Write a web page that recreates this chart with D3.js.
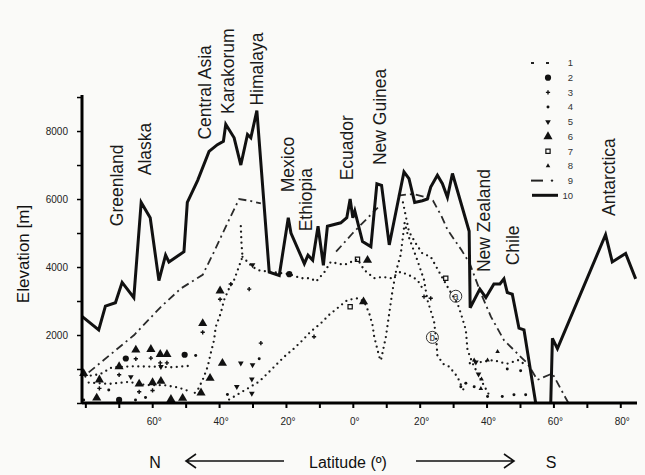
<!DOCTYPE html>
<html>
<head>
<meta charset="utf-8">
<script src="https://cdn.jsdelivr.net/npm/d3@7"></script>
<style>
  body { margin: 0; background: #fafaf8; }
  svg { display: block; font-family: "Liberation Sans", Arial, sans-serif; }
</style>
</head>
<body>
<div id="chart"></div>
<script>
// latitude: negative = north, positive = south ; elevation in m
const maxPeaks = [ // 10
  [-81, 2550], [-76, 2150], [-74, 2850], [-71, 2950], [-69, 3550], [-65.5, 3100],
  [-63.3, 5900], [-60.6, 5450], [-58, 3600], [-56, 4350], [-55, 4150], [-50.5, 4450],
  [-49.5, 5900], [-46.4, 6550], [-43, 7400], [-40.5, 7600], [-38.7, 7700], [-38, 8200],
  [-35.5, 7800], [-33.5, 7000], [-31.5, 7900], [-30.5, 7800], [-28.7, 8600], [-25, 3850],
  [-22, 3750], [-19.3, 5450], [-18.5, 5000], [-14.5, 4100], [-13.4, 4350], [-12, 4200],
  [-10.4, 5200], [-8.8, 4050], [-7.6, 5200], [-3.6, 5300], [-1.8, 5450], [-0.8, 6000],
  [0, 5450], [0.6, 5650], [2.9, 4750], [5.4, 4600], [7.2, 6450], [8.6, 6400],
  [10.9, 4650], [15.3, 6800], [16.8, 6600], [18.5, 5900], [20.8, 5950], [22.3, 6000],
  [23.3, 6350], [25.3, 6700], [26.8, 6450], [28.3, 6050], [29.8, 6750], [34.8, 5050],
  [35.1, 2800], [38, 3350], [39.8, 3100], [42.2, 3500], [44, 3500], [45.2, 3650],
  [46.2, 3250], [47.7, 3200], [49.7, 2200], [51.2, 2150], [54.7, 0], null,
  [59.2, 0], [59.7, 1900], [61.2, 1600], [75.6, 4950], [77.6, 4150], [81.6, 4400], [84.6, 3650]
];

const envelope = [ // 9
  [-79, 900], [-65.4, 2000], [-57.4, 2830], [-51.4, 3370], [-44.9, 3770], [-41.5, 4450],
  [-37.5, 5290], [-34, 6000], [-31, 5950], [-27.5, 5870], null,
  [-5, 4450], [0, 5000], [7.5, 5750], null,
  [13.5, 6100], [18, 6150], [22, 6050], [24, 5950],
  [26.5, 5500], [28.3, 5100], [32.5, 4500], [35, 4100], [38.3, 3230], [41.3, 2540],
  [45.2, 1850], [50.2, 1360], [52.2, 1170], [55.2, 680], [59.7, 870], [63.7, 140], [64.5, 0]
];

// series 1 dotted profiles
const curveA = [
  [15, 5900], [16.8, 5040], [18.8, 4700], [20.8, 4400], [23.3, 4300], [26.8, 3680],
  [29, 3300], [31.3, 2930], [32.3, 2640], [33.8, 2150], [34.3, 1560], [35.8, 1170],
  [38.3, 680], [41.3, 140]
];
const curveB = [
  [-37, 100], [-28, 630], [-25.5, 870], [-20.5, 1360], [-17.5, 1610], [-15, 1850],
  [-12.6, 2100], [-9.6, 2340], [-7.1, 2590], [-4.6, 2790], [-1.6, 3030], [1.4, 3080],
  [3.4, 2980], [4.9, 2640], [5.9, 2290], [6.4, 1950], [7.9, 1360], [8.4, 1250],
  [9.9, 1950], [10.9, 2640], [11.9, 3320], [12.9, 3860], [14.3, 4350], [15.5, 5300],
  [16.3, 5000], [19.3, 4200], [21.3, 3620], [22.3, 3030], [24.3, 2400], [25, 1800],
  [25.3, 1400], [27, 1150], [28.8, 1070], [31.3, 770], [32.8, 430], [34, 300]
];
const curveC = [
  [-33.5, 5200], [-33.3, 4700], [-33, 4300], [-35.5, 3620], [-37, 3370], [-38.5, 3030],
  [-39.5, 2640], [-41, 2240], [-41.5, 1850], [-42.5, 1460], [-43.4, 1070], [-44.9, 680],
  [-46.4, 380], [-48.4, 190]
];
const curveD = [
  [-33, 4300], [-30, 4000], [-28, 3900], [-24, 3850], [-19, 3790], [-15.5, 3670],
  [-12.6, 3670], [-11, 3570], [-8.5, 3850], [-6.6, 4150], [-2.6, 4060], [1.4, 4230],
  [3.4, 3910], [6.4, 3670], [8.9, 3710], [11.4, 3670], [14.3, 3860], [17, 3750],
  [19.3, 3620], [21.3, 3300]
];
const curveE = [
  [-80, 780], [-75.5, 850], [-72, 1050], [-66, 1080], [-60, 1070], [-54, 1050], [-48, 1100]
];
const curveF = [
  [-79, 600], [-73, 560], [-67, 620], [-62, 530], [-56, 520], [-52, 450], [-49, 350]
];
const curveG = [
  [35, 1170], [38, 1200], [42, 1260], [46, 1150], [49.5, 1260], [52, 1100]
];

const s2 = [[-69.9, 90], [-67.9, 1310], [-50.3, 1420], [-19, 3790]];
const s3 = [
  [-75.8, 430], [-64.9, 1300], [-60.4, 1320], [-57.6, 1180], [-55.6, 1180], [-63.9, 330],
  [-59.9, 370], [-44.9, 2080], [-39.7, 3050], [-69.9, 830], [-27.5, 1760], [-11.6, 1950],
  [21.3, 3130], [23.3, 3080], [-36.5, 3500], [-31, 3350]
];
const s4 = [
  [-80.5, 90], [-73, 380], [-62, 160], [44.7, 190], [48.2, 240], [51.7, 240], [32.3, 480],
  [33.8, 580], [36.3, 480], [40.3, 190], [50.2, 950], [46.2, 1000], [-65, 90], [-47, 1400],
  [-28, 1300], [-37.5, 250]
];
const s5 = [
  [-66.4, 770], [-57.4, 1070], [-33.5, 1170], [-30, 1120], [-30.2, 280], [-34.7, 480],
  [-30, 4060], [36.8, 1200], [37.6, 850], [-30.2, 700]
];
const s6 = [
  [-80.5, 870], [-76.6, 150], [-75.8, 680], [-69.9, 1070], [-64.9, 1560], [-60.4, 1580],
  [-57.6, 1430], [-55.6, 1430], [-63.9, 560], [-59.9, 600], [-57.4, 640], [-54.4, 110],
  [-50.9, 140], [-45.4, 300], [-44.9, 2340], [-42.7, 730], [-39.7, 3300], [-39, 1170],
  [4.4, 4200], [3.2, 2980]
];
const s7 = [[1.4, 4230], [-0.8, 2830], [27.8, 3670]];
const s8 = [[43.3, 1510], [40.3, 1260], [38.5, 700], [38.3, 420], [36.3, 1260]];

const regions = [
  ['Greenland', -70.4, 5200], ['Alaska', -62.3, 6700], ['Central Asia', -44.1, 7750],
  ['Karakorum', -37.2, 8500], ['Himalaya', -28.8, 8750], ['Mexico', -19.5, 6200],
  ['Ethiopia', -14, 5050], ['Ecuador', -1.6, 6550], ['New Guinea', 8.2, 7000],
  ['New Zealand', 39.3, 3850], ['Chile', 47.8, 4050], ['Antarctica', 76.5, 5500]
];

const xTicks = d3.range(-80, 81, 10);
const xLabels = [-60, -40, -20, 0, 20, 40, 60, 80];
const yTicks = d3.range(0, 9001, 1000);
const yLabels = [2000, 4000, 6000, 8000];
const legendKeys = ['1', '2', '3', '4', '5', '6', '7', '8', '9', '10'];

const width = 645, height = 475;
const svg = d3.select('#chart').append('svg')
  .attr('width', width).attr('height', height);

const x = d3.scaleLinear().domain([-81, 85]).range([82, 637]);
const y = d3.scaleLinear().domain([0, 9060]).range([403, 95]);

const line = d3.line()
  .defined((d) => d !== null)
  .x((d) => x(d[0]))
  .y((d) => y(d[1]));

// dotted profiles (series 1)
const dotted = svg.append('g')
  .attr('fill', 'none').attr('stroke', '#1a1a1a')
  .attr('stroke-width', 2.3).attr('stroke-linecap', 'round')
  .attr('stroke-dasharray', '0,5.5');
[curveA, curveB, curveC, curveD, curveE, curveF, curveG].forEach((c) => {
  dotted.append('path').attr('d', line(c));
});

// series 9
svg.append('path')
  .attr('d', line(envelope))
  .attr('fill', 'none').attr('stroke', '#2a2a2a')
  .attr('stroke-width', 1.8)
  .attr('stroke-dasharray', '8,4,2,4');

// series 10
svg.append('path')
  .attr('d', line(maxPeaks))
  .attr('fill', 'none').attr('stroke', '#111')
  .attr('stroke-width', 3).attr('stroke-linejoin', 'miter');

// markers
function drawMarkers(data, type, size, opts = {}) {
  svg.append('g').selectAll('path').data(data).join('path')
    .attr('d', d3.symbol().type(type).size(size))
    .attr('transform', (d) => `translate(${x(d[0])},${y(d[1])})` + (opts.flip ? ' rotate(180)' : ''))
    .attr('fill', opts.open ? 'none' : '#111')
    .attr('stroke', opts.open ? '#111' : 'none')
    .attr('stroke-width', 1.2);
}
drawMarkers(s3, d3.symbolCross, 10);
drawMarkers(s4, d3.symbolCircle, 7);
drawMarkers(s2, d3.symbolCircle, 30);
drawMarkers(s5, d3.symbolTriangle, 14, { flip: true });
drawMarkers(s6, d3.symbolTriangle, 36);
drawMarkers(s7, d3.symbolSquare, 18, { open: true });
drawMarkers(s8, d3.symbolTriangle, 9);

// (a) and (b) tags
[['a', 30.8, 3140], ['b', 23.8, 1930]].forEach(([t, la, el]) => {
  const g = svg.append('g').attr('transform', `translate(${x(la)},${y(el)})`);
  g.append('circle').attr('r', 6).attr('fill', 'none').attr('stroke', '#333').attr('stroke-width', 1);
  g.append('text').attr('text-anchor', 'middle').attr('dy', '0.33em')
    .attr('font-size', 10).attr('fill', '#333').text(t);
});

// axes
const xAxis = svg.append('g').attr('transform', `translate(0,${y(0)})`)
  .call(d3.axisBottom(x).tickValues(xTicks).tickSize(5).tickFormat(''));
xAxis.select('.domain').attr('stroke-width', 3).attr('d', `M${x(-81)},0H${x(85)}`);
xAxis.selectAll('.tick line').attr('stroke-width', 2);

svg.append('g').selectAll('text').data(xLabels).join('text')
  .attr('x', (d) => x(d) + 2).attr('y', 425)
  .attr('text-anchor', 'middle').attr('font-size', 10).attr('fill', '#222')
  .text((d) => Math.abs(d) + '°');

const yAxis = svg.append('g').attr('transform', `translate(${x(-81)},0)`)
  .call(d3.axisLeft(y).tickValues(yTicks).tickSize(5).tickFormat(''));
yAxis.select('.domain').attr('stroke-width', 3).attr('d', `M0,${y(9060)}V${y(0) + 1}`);
yAxis.selectAll('.tick line').attr('stroke-width', 1.5);

svg.append('g').selectAll('text').data(yLabels).join('text')
  .attr('x', 68).attr('y', (d) => y(d)).attr('dy', '0.35em')
  .attr('text-anchor', 'end').attr('font-size', 10).attr('fill', '#222')
  .text((d) => d);

svg.append('text')
  .attr('transform', 'translate(29,254) rotate(-90)')
  .attr('text-anchor', 'middle').attr('font-size', 17).attr('fill', '#111')
  .text('Elevation [m]');

// region names
svg.append('g').selectAll('text').data(regions).join('text')
  .attr('transform', (d) => `translate(${x(d[1]) + 6},${y(d[2])}) rotate(-90)`)
  .attr('font-size', 17.5).attr('fill', '#1a1a1a')
  .text((d) => d[0]);

// bottom latitude caption
const cap = svg.append('g').attr('font-size', 16).attr('fill', '#111');
cap.append('text').attr('x', 155).attr('y', 468).attr('text-anchor', 'middle').text('N');
cap.append('text').attr('x', 348).attr('y', 468).attr('text-anchor', 'middle').text('Latitude (º)');
cap.append('text').attr('x', 551).attr('y', 468).attr('text-anchor', 'middle').text('S');
cap.append('path').attr('d', 'M186,461H284M196,454L186,461L196,468')
  .attr('fill', 'none').attr('stroke', '#111').attr('stroke-width', 1.6);
cap.append('path').attr('d', 'M416,461H514M504,454L514,461L504,468')
  .attr('fill', 'none').attr('stroke', '#111').attr('stroke-width', 1.6);

// legend
const leg = svg.append('g');
const ly = (i) => 63 + i * 14.7;
leg.selectAll('text').data(legendKeys).join('text')
  .attr('x', 573).attr('y', (d, i) => ly(i)).attr('dy', '0.35em')
  .attr('text-anchor', 'end').attr('font-size', 9.5).attr('fill', '#333')
  .text((d) => d);
leg.append('path').attr('d', `M531,${ly(0)}h3M546,${ly(0)}h3`).attr('stroke', '#222').attr('stroke-width', 2);
const legSym = [
  [1, d3.symbolCircle, 30, false, false],
  [2, d3.symbolCross, 10, false, false],
  [3, d3.symbolCircle, 7, false, false],
  [4, d3.symbolTriangle, 14, true, false],
  [5, d3.symbolTriangle, 36, false, false],
  [6, d3.symbolSquare, 18, false, true],
  [7, d3.symbolTriangle, 9, false, false]
];
legSym.forEach(([i, t, s, flip, open]) => {
  leg.append('path')
    .attr('d', d3.symbol().type(t).size(s))
    .attr('transform', `translate(548,${ly(i)})` + (flip ? ' rotate(180)' : ''))
    .attr('fill', open ? 'none' : '#111').attr('stroke', open ? '#111' : 'none').attr('stroke-width', 1.2);
});
leg.append('path').attr('d', `M531,${ly(8)}h12`).attr('stroke', '#222').attr('stroke-width', 2);
leg.append('circle').attr('cx', 552).attr('cy', ly(8)).attr('r', 1.2).attr('fill', '#222');
leg.append('path').attr('d', `M532,${ly(9)}h26`).attr('stroke', '#111').attr('stroke-width', 3);
</script>
</body>
</html>
